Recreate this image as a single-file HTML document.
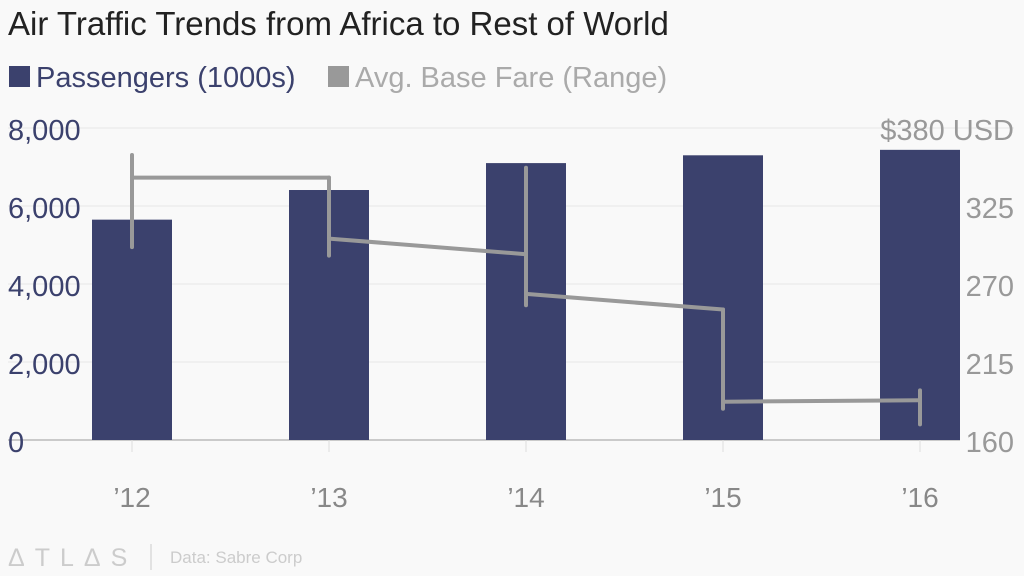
<!DOCTYPE html>
<html><head><meta charset="utf-8"><style>
body{margin:0;background:#f9f9f9;font-family:"Liberation Sans",sans-serif}
#wrap{position:relative;width:1024px;height:576px;overflow:hidden;background:#f9f9f9}
</style></head><body>
<div id="wrap">
<svg id="svg" width="1024" height="576">
<text x="8" y="35" font-size="33" fill="#222">Air Traffic Trends from Africa to Rest of World</text>
<g>
<rect x="9" y="66" width="21" height="21" fill="#3b416d"/>
<text x="36" y="87" font-size="29" fill="#3b416d">Passengers (1000s)</text>
<rect x="328" y="66" width="21" height="21" fill="#999"/>
<text x="355" y="87" font-size="29" fill="#aaa">Avg. Base Fare (Range)</text>
</g>
<g id="grid"></g><g id="bars"></g><g id="lines"></g><g id="axes"></g>
<g>
<text x="8" y="566" font-size="25" fill="#ccc" letter-spacing="10">ΔTLΔS</text>
<line x1="151" y1="544" x2="151" y2="570" stroke="#ccc"/>
<text x="170" y="563" font-size="17" fill="#ccc">Data: Sabre Corp</text>
</g>
</svg>
</div>
<script>
const years=["’12","’13","’14","’15","’16"];
const passengers=[5650,6410,7100,7300,7440];
const fareHigh=[361,345,352,252,195];
const fareLow=[296,290,255,182,171];
const segStart=[345,302,263,187];
const segEnd=[345,291,252,188];
const leftTicks=[0,2000,4000,6000,8000];
const rightTicks=[160,215,270,325];
const NS="http://www.w3.org/2000/svg";
const yL=v=>440-v*312/8000;
const yR=v=>440-(v-160)*312/220;
const xC=i=>132+i*197;
function el(tag,attrs,parent,txt){const e=document.createElementNS(NS,tag);for(const k in attrs)e.setAttribute(k,attrs[k]);if(txt!==undefined)e.textContent=txt;document.getElementById(parent).appendChild(e);return e;}
leftTicks.forEach((t,i)=>{
 const g=el('line',{x1:8,x2:1014,y1:yL(t),y2:yL(t),stroke:t===0?'#bbb':'#e6e6e6','stroke-width':t===0?1.5:1},'grid');
 
 
 const tx=el('text',{x:8,y:yL(t)+12,'font-size':29,fill:'#3b416d'},'axes',t.toLocaleString('en-US'));
 
 
});
passengers.forEach((v,i)=>{
 const r=el('rect',{x:xC(i)-40,y:yL(v),width:80,height:440-yL(v),fill:'#3b416d'},'bars');
 
 
 const tx=el('text',{x:xC(i),y:507,'font-size':28,fill:'#888','text-anchor':'middle'},'axes',years[i]);
 
 
 const tk=el('line',{x1:xC(i),x2:xC(i),y1:440,y2:452,stroke:'#ddd'},'axes');
 
 
});
const st={stroke:'#999','stroke-width':4,'stroke-linecap':'round'};
fareHigh.forEach((h,i)=>{
 const l=el('line',Object.assign({x1:xC(i),x2:xC(i),y1:yR(h),y2:yR(fareLow[i])},st),'lines');
 
 
});
segStart.forEach((s,i)=>{
 const l=el('line',Object.assign({x1:xC(i),x2:xC(i+1),y1:yR(s),y2:yR(segEnd[i])},st),'lines');
 
 
});
rightTicks.forEach(t=>{
 const b=el('rect',{x:960,y:yR(t)-21,width:64,height:42,fill:'#f9f9f9'},'axes');
 
 
 const tx=el('text',{x:1014,y:yR(t)+12,'font-size':29,fill:'#999','text-anchor':'end'},'axes',String(t));
 
 
});
const topLabel=el('text',{x:1014,y:yR(380)+12,'font-size':29,fill:'#999','text-anchor':'end'},'axes','$380 USD');


</script>
</body></html>
